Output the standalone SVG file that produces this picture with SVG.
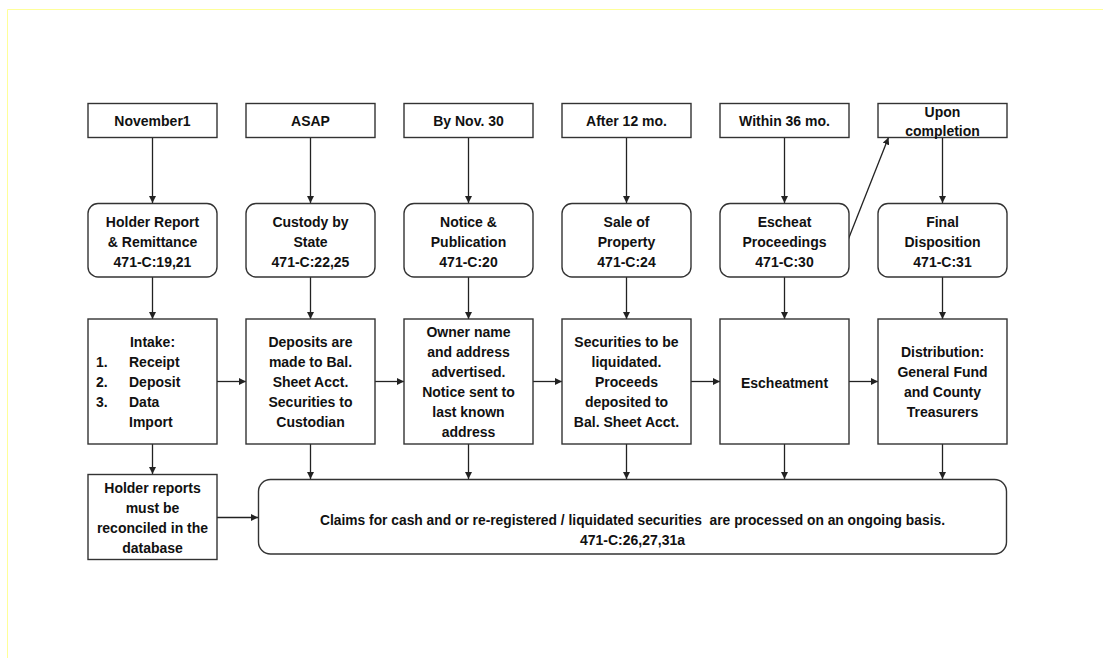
<svg xmlns="http://www.w3.org/2000/svg" width="1103" height="658" viewBox="0 0 1103 658">
<style>
.b{fill:#fff;stroke:#333;stroke-width:1.4}
.t{font-family:"Liberation Sans",Arial,sans-serif;font-weight:bold;font-size:14px;fill:#111;text-anchor:middle}
.tl{font-family:"Liberation Sans",Arial,sans-serif;font-weight:bold;font-size:14px;fill:#111;text-anchor:start}
.c{stroke:#222;stroke-width:1.3;fill:none;marker-end:url(#ah)}
</style>
<defs>
<marker id="ah" viewBox="0 0 10 10" refX="10" refY="5" markerWidth="7" markerHeight="7" markerUnits="userSpaceOnUse" orient="auto">
<path d="M0,0 L10,5 L0,10 z" fill="#222"/>
</marker>
</defs>
<rect width="1103" height="658" fill="#fff"/>
<path d="M7.5,658 V9.5 H1103" fill="none" stroke="#ffff99" stroke-width="1"/>

<g id="connectors">
<line class="c" x1="152.5" y1="137" x2="152.5" y2="203"/>
<line class="c" x1="310.5" y1="137" x2="310.5" y2="203"/>
<line class="c" x1="468.5" y1="137" x2="468.5" y2="203"/>
<line class="c" x1="626.5" y1="137" x2="626.5" y2="203"/>
<line class="c" x1="784.5" y1="137" x2="784.5" y2="203"/>
<line class="c" x1="942.5" y1="137" x2="942.5" y2="203"/>
<line class="c" x1="152.5" y1="277" x2="152.5" y2="319"/>
<line class="c" x1="310.5" y1="277" x2="310.5" y2="319"/>
<line class="c" x1="468.5" y1="277" x2="468.5" y2="319"/>
<line class="c" x1="626.5" y1="277" x2="626.5" y2="319"/>
<line class="c" x1="784.5" y1="277" x2="784.5" y2="319"/>
<line class="c" x1="942.5" y1="277" x2="942.5" y2="319"/>
<line class="c" x1="217" y1="381.5" x2="246" y2="381.5"/>
<line class="c" x1="375" y1="381.5" x2="404" y2="381.5"/>
<line class="c" x1="533" y1="381.5" x2="562" y2="381.5"/>
<line class="c" x1="691" y1="381.5" x2="720" y2="381.5"/>
<line class="c" x1="849" y1="381.5" x2="878" y2="381.5"/>
<line class="c" x1="152.5" y1="444" x2="152.5" y2="474"/>
<line class="c" x1="310.5" y1="444" x2="310.5" y2="479"/>
<line class="c" x1="468.5" y1="444" x2="468.5" y2="479"/>
<line class="c" x1="626.5" y1="444" x2="626.5" y2="479"/>
<line class="c" x1="784.5" y1="444" x2="784.5" y2="479"/>
<line class="c" x1="942.5" y1="444" x2="942.5" y2="479"/>
<line class="c" x1="217" y1="517.5" x2="258" y2="517.5"/>
<line class="c" x1="848" y1="240" x2="888.5" y2="137.5"/>
</g>

<g id="top1"><rect class="b" x="88" y="103.5" width="129" height="34"/><text class="t" x="152.5" y="126">November1</text></g>
<g id="top2"><rect class="b" x="246" y="103.5" width="129" height="34"/><text class="t" x="310.5" y="126">ASAP</text></g>
<g id="top3"><rect class="b" x="404" y="103.5" width="129" height="34"/><text class="t" x="468.5" y="126">By Nov. 30</text></g>
<g id="top4"><rect class="b" x="562" y="103.5" width="129" height="34"/><text class="t" x="626.5" y="126">After 12 mo.</text></g>
<g id="top5"><rect class="b" x="720" y="103.5" width="129" height="34"/><text class="t" x="784.5" y="126">Within 36 mo.</text></g>
<g id="top6"><rect class="b" x="878" y="103.5" width="129" height="34"/><text class="t" x="942.5" y="116.5">Upon</text><text class="t" x="942.5" y="136">completion</text></g>

<g id="step1"><rect class="b" x="88" y="203.5" width="129" height="73.5" rx="10"/><text class="t" x="152.5" y="226.5">Holder Report</text><text class="t" x="152.5" y="246.5">&amp; Remittance</text><text class="t" x="152.5" y="267">471-C:19,21</text></g>
<g id="step2"><rect class="b" x="246" y="203.5" width="129" height="73.5" rx="10"/><text class="t" x="310.5" y="226.5">Custody by</text><text class="t" x="310.5" y="246.5">State</text><text class="t" x="310.5" y="267">471-C:22,25</text></g>
<g id="step3"><rect class="b" x="404" y="203.5" width="129" height="73.5" rx="10"/><text class="t" x="468.5" y="226.5">Notice &amp;</text><text class="t" x="468.5" y="246.5">Publication</text><text class="t" x="468.5" y="267">471-C:20</text></g>
<g id="step4"><rect class="b" x="562" y="203.5" width="129" height="73.5" rx="10"/><text class="t" x="626.5" y="226.5">Sale of</text><text class="t" x="626.5" y="246.5">Property</text><text class="t" x="626.5" y="267">471-C:24</text></g>
<g id="step5"><rect class="b" x="720" y="203.5" width="129" height="73.5" rx="10"/><text class="t" x="784.5" y="226.5">Escheat</text><text class="t" x="784.5" y="246.5">Proceedings</text><text class="t" x="784.5" y="267">471-C:30</text></g>
<g id="step6"><rect class="b" x="878" y="203.5" width="129" height="73.5" rx="10"/><text class="t" x="942.5" y="226.5">Final</text><text class="t" x="942.5" y="246.5">Disposition</text><text class="t" x="942.5" y="267">471-C:31</text></g>

<g id="detail1"><rect class="b" x="88" y="319" width="129" height="125"/>
<text class="t" x="152.5" y="346.5">Intake:</text>
<text class="tl" x="96" y="367">1.</text><text class="tl" x="129" y="367">Receipt</text>
<text class="tl" x="96" y="387">2.</text><text class="tl" x="129" y="387">Deposit</text>
<text class="tl" x="96" y="407">3.</text><text class="tl" x="129" y="407">Data</text>
<text class="tl" x="129" y="427">Import</text></g>
<g id="detail2"><rect class="b" x="246" y="319" width="129" height="125"/>
<text class="t" x="310.5" y="346.5">Deposits are</text><text class="t" x="310.5" y="367">made to Bal.</text><text class="t" x="310.5" y="387">Sheet Acct.</text><text class="t" x="310.5" y="407">Securities to</text><text class="t" x="310.5" y="427">Custodian</text></g>
<g id="detail3"><rect class="b" x="404" y="319" width="129" height="125"/>
<text class="t" x="468.5" y="336.5">Owner name</text><text class="t" x="468.5" y="357">and address</text><text class="t" x="468.5" y="377">advertised.</text><text class="t" x="468.5" y="397">Notice sent to</text><text class="t" x="468.5" y="417">last known</text><text class="t" x="468.5" y="437">address</text></g>
<g id="detail4"><rect class="b" x="562" y="319" width="129" height="125"/>
<text class="t" x="626.5" y="346.5">Securities to be</text><text class="t" x="626.5" y="367">liquidated.</text><text class="t" x="626.5" y="387">Proceeds</text><text class="t" x="626.5" y="407">deposited to</text><text class="t" x="626.5" y="427">Bal. Sheet Acct.</text></g>
<g id="detail5"><rect class="b" x="720" y="319" width="129" height="125"/>
<text class="t" x="784.5" y="387.5">Escheatment</text></g>
<g id="detail6"><rect class="b" x="878" y="319" width="129" height="125"/>
<text class="t" x="942.5" y="356.5">Distribution:</text><text class="t" x="942.5" y="377">General Fund</text><text class="t" x="942.5" y="397">and County</text><text class="t" x="942.5" y="417">Treasurers</text></g>

<g id="reconcile"><rect class="b" x="88" y="474.5" width="129" height="85"/>
<text class="t" x="152.5" y="492.5">Holder reports</text><text class="t" x="152.5" y="512.5">must be</text><text class="t" x="152.5" y="533">reconciled in the</text><text class="t" x="152.5" y="553">database</text></g>
<g id="claims"><rect class="b" x="258.5" y="479.5" width="748" height="74.5" rx="12"/>
<text class="t" x="632.5" y="525" textLength="625" lengthAdjust="spacingAndGlyphs" style="white-space:pre">Claims for cash and or re-registered / liquidated securities  are processed on an ongoing basis.</text>
<text class="t" x="632.5" y="545">471-C:26,27,31a</text></g>
</svg>
